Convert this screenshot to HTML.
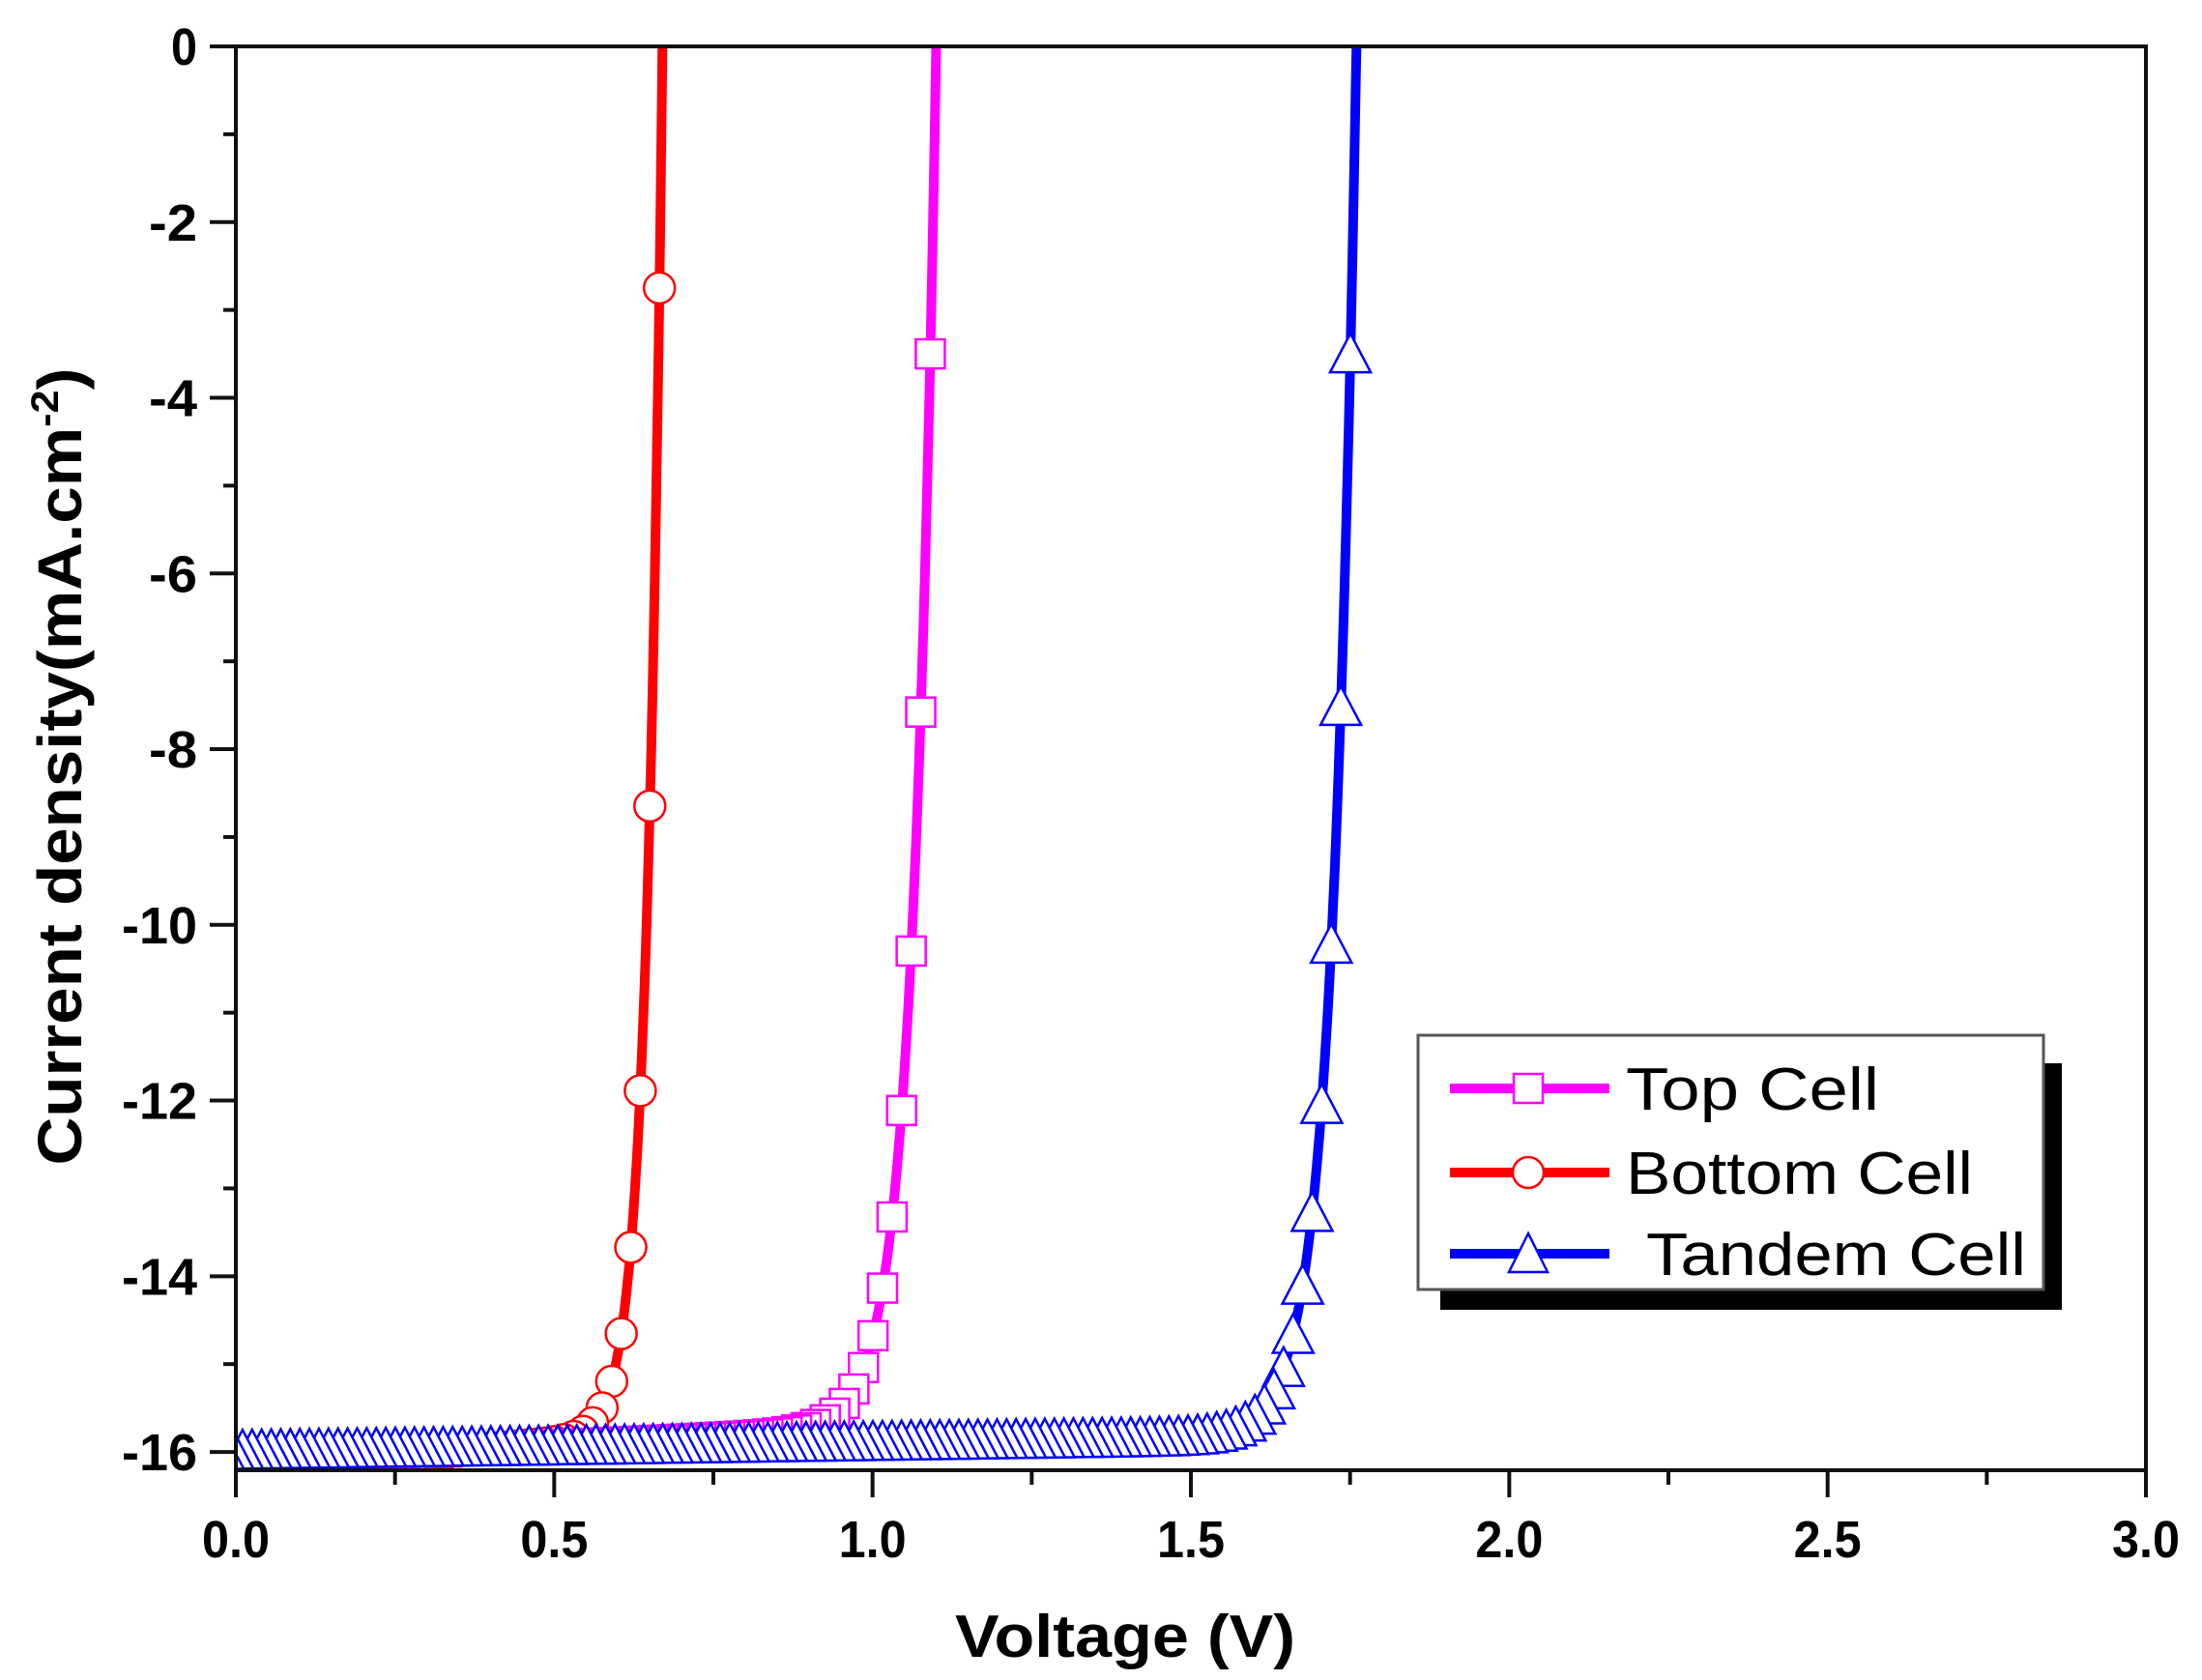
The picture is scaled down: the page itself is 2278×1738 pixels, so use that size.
<!DOCTYPE html>
<html><head><meta charset="utf-8"><style>
html,body{margin:0;padding:0;background:#fff;}
svg{display:block;}
text{font-family:"Liberation Sans",Arial,sans-serif;}
</style></head><body>
<svg id="s" width="2278" height="1738" viewBox="0 0 2278 1738" xmlns="http://www.w3.org/2000/svg">
<defs><clipPath id="c"><rect x="244" y="48" width="1976" height="1473"/></clipPath></defs>
<g id="plot" clip-path="url(#c)"></g>
<g id="axes"></g>
<g id="leg">
<rect x="1490" y="1100" width="643" height="255" fill="#000"/>
<rect x="1467" y="1071" width="647" height="263" fill="#fff" stroke="#555" stroke-width="3"/>
<line x1="1500" y1="1126" x2="1665" y2="1126" stroke="#ff00ff" stroke-width="10"/>
<rect x="1566" y="1111" width="30" height="30" fill="#fff" stroke="#ff00ff" stroke-width="2.5"/>
<text x="1682" y="1148" font-size="62" textLength="262" lengthAdjust="spacingAndGlyphs">Top Cell</text>
<line x1="1500" y1="1213" x2="1665" y2="1213" stroke="#ff0000" stroke-width="10"/>
<circle cx="1581" cy="1213" r="16" fill="#fff" stroke="#ff0000" stroke-width="2.5"/>
<text x="1682" y="1235" font-size="62" textLength="359" lengthAdjust="spacingAndGlyphs">Bottom Cell</text>
<line x1="1500" y1="1297" x2="1665" y2="1297" stroke="#0000ff" stroke-width="10"/>
<polygon points="1581,1276 1601,1316 1561,1316" fill="#fff" stroke="#0000ff" stroke-width="2.5"/>
<text x="1703" y="1319" font-size="62" textLength="393" lengthAdjust="spacingAndGlyphs">Tandem Cell</text>
</g>
<text x="1164" y="1714" font-size="62" font-weight="bold" text-anchor="middle" textLength="352" lengthAdjust="spacingAndGlyphs">Voltage (V)</text>
<text transform="translate(84,793) rotate(-90)" font-size="64" font-weight="bold" text-anchor="middle" textLength="825" lengthAdjust="spacingAndGlyphs">Current density(mA.cm<tspan dy="-24" font-size="40">-2</tspan><tspan dy="24">)</tspan></text>
</svg>
<script>
var NS="http://www.w3.org/2000/svg";
function X(v){return 244+v*658.67;}
function Y(j){return 48-j*90.88;}
function el(p,t,a){var e=document.createElementNS(NS,t);for(var k in a)e.setAttribute(k,a[k]);p.appendChild(e);return e;}
var plot=document.getElementById('plot'),axes=document.getElementById('axes');
var series=[
 {Jsc:16.2,s:0.6,Voc:0.67,n:0.025,c:'#ff0000',m:'o',first:-2.75},
 {Jsc:16.1,s:0.35,Voc:1.10,n:0.037,c:'#ff00ff',m:'s',first:-3.5},
 {Jsc:15.98,s:0.1,Voc:1.76,n:0.038,c:'#0000ff',m:'t',first:-3.5}
];
series.forEach(function(S){
 var A=S.Jsc-S.s*S.Voc;
 function J(v){return -S.Jsc+S.s*v+A*Math.exp((v-S.Voc)/S.n);}
 var pts=[];
 for(var v=0;v<=S.Voc+1e-9;v+=0.002){pts.push(X(v).toFixed(1)+','+Y(Math.min(0,J(v))).toFixed(1));}
 pts.push(X(S.Voc).toFixed(1)+','+Y(0).toFixed(1));
 el(plot,'polyline',{points:pts.join(' '),fill:'none',stroke:S.c,'stroke-width':10,'stroke-linejoin':'round'});
 var lo=0,hi=S.Voc;for(var i=0;i<60;i++){var mid=(lo+hi)/2;if(J(mid)<S.first)lo=mid;else hi=mid;}
 var v0=lo,step=0.015;
 for(var v=v0;v>=-0.02;v-=step){
  var x=X(v),y=Y(J(v));
  if(S.m=='o')el(plot,'circle',{cx:x,cy:y,r:16,fill:'#fff',stroke:S.c,'stroke-width':2.5});
  else if(S.m=='s')el(plot,'rect',{x:x-15,y:y-15,width:30,height:30,fill:'#fff',stroke:S.c,'stroke-width':2.5});
  else el(plot,'polygon',{points:x+','+(y-21)+' '+(x+21)+','+(y+19)+' '+(x-21)+','+(y+19),fill:'#fff',stroke:S.c,'stroke-width':2.5});
 }
});
el(axes,'rect',{x:244,y:48,width:1976,height:1473,fill:'none',stroke:'#111','stroke-width':4});
for(var j=0;j>=-16;j--){
 var y=Y(j),maj=(j%2==0);
 el(axes,'line',{x1:maj?217:231,y1:y,x2:244,y2:y,stroke:'#111','stroke-width':4});
 if(maj){var s=String(j);var t=el(axes,'text',{x:204,y:y+19,'font-size':54,'font-weight':'bold','text-anchor':'end',textLength:(s.length==1?27:s.length==2?50:78),lengthAdjust:'spacingAndGlyphs'});t.textContent=s;}
}
for(var k=0;k<=12;k++){
 var v=k*0.25,x=X(v),maj=(k%2==0);
 el(axes,'line',{x1:x,y1:1521,x2:x,y2:maj?1549:1536,stroke:'#111','stroke-width':4});
 if(maj){var t=el(axes,'text',{x:x,y:1611,'font-size':54,'font-weight':'bold','text-anchor':'middle',textLength:70,lengthAdjust:'spacingAndGlyphs'});t.textContent=v.toFixed(1);}
}
</script>
</body></html>
